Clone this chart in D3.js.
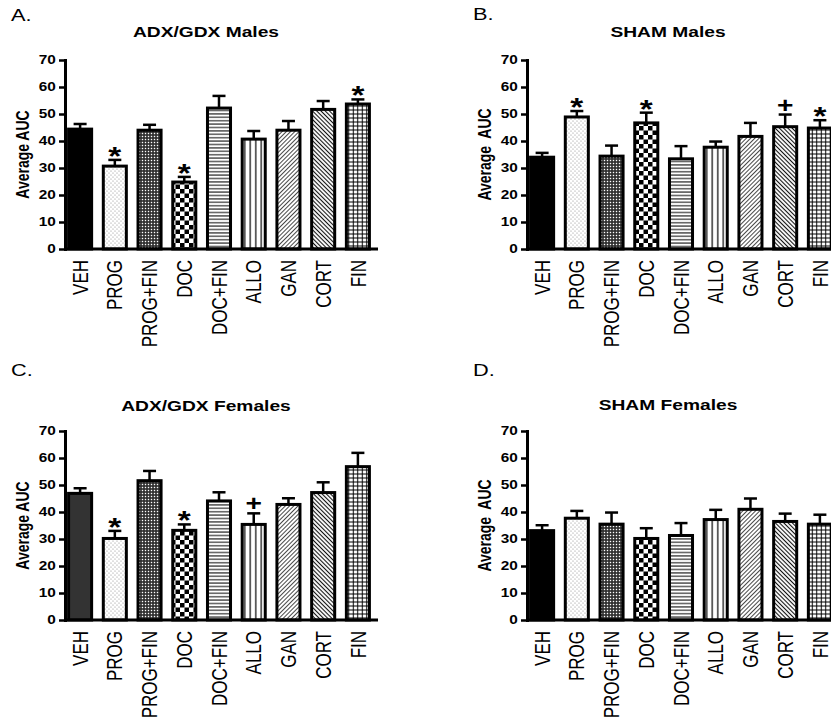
<!DOCTYPE html>
<html>
<head>
<meta charset="utf-8">
<script src="https://cdn.jsdelivr.net/npm/d3@7"></script>
<style>
  body { margin: 0; background: #fff; }
  svg { display: block; font-family: "Liberation Sans", Arial, sans-serif; }
</style>
</head>
<body>
<svg id="chart" width="831" height="723"></svg>
<script>
// treatment groups (x categories)
const categories = ['VEH', 'PROG', 'PROG+FIN', 'DOC', 'DOC+FIN', 'ALLO', 'GAN', 'CORT', 'FIN'];
const yTicks = [0, 10, 20, 30, 40, 50, 60, 70];

// mean AUC and upper error (SEM) per panel
const adxMalesMean = [44.4, 30.7, 44.0, 24.8, 52.2, 40.7, 44.0, 51.7, 53.7];
const adxMalesSem = [1.9, 2.3, 2.0, 1.9, 4.5, 3.0, 3.4, 3.1, 1.7];
const adxMalesMarks = ['', '*', '', '*', '', '', '', '', '*'];

const shamMalesMean = [34.0, 48.9, 34.4, 46.7, 33.4, 37.7, 41.7, 45.3, 44.8];
const shamMalesSem = [1.6, 2.2, 3.9, 3.8, 4.7, 2.1, 5.0, 4.5, 2.9];
const shamMalesMarks = ['', '*', '', '*', '', '', '', '+', '*'];

const adxFemalesMean = [46.9, 30.2, 51.6, 33.2, 44.1, 35.4, 42.8, 47.2, 56.8];
const adxFemalesSem = [1.9, 2.8, 3.6, 2.2, 3.2, 4.1, 2.3, 3.8, 5.1];
const adxFemalesMarks = ['', '*', '', '*', '', '+', '', '', ''];

const shamFemalesMean = [33.1, 37.7, 35.5, 30.2, 31.3, 37.2, 41.0, 36.5, 35.5];
const shamFemalesSem = [2.0, 2.7, 4.3, 3.8, 4.6, 3.6, 4.0, 2.9, 3.5];
const shamFemalesMarks = ['', '', '', '', '', '', '', '', ''];

// the source figure is stretched sideways, so text is widened to match
const SX = 1.28;

const panels = [
  { letter: 'A.', title: 'ADX/GDX Males', ylabel: 'Average AUC', x0: 65, y0: 249, letterY: 21, titleY: 37,
    mean: adxMalesMean, sem: adxMalesSem, marks: adxMalesMarks, vehFill: '#000' },
  { letter: 'B.', title: 'SHAM Males', ylabel: 'Average  AUC', x0: 527, y0: 249, letterY: 20, titleY: 37,
    mean: shamMalesMean, sem: shamMalesSem, marks: shamMalesMarks, vehFill: '#000' },
  { letter: 'C.', title: 'ADX/GDX Females', ylabel: 'Average AUC', x0: 65, y0: 620, letterY: 376, titleY: 411,
    mean: adxFemalesMean, sem: adxFemalesSem, marks: adxFemalesMarks, vehFill: '#333' },
  { letter: 'D.', title: 'SHAM Females', ylabel: 'Average  AUC', x0: 527, y0: 620, letterY: 376, titleY: 410,
    mean: shamFemalesMean, sem: shamFemalesSem, marks: shamFemalesMarks, vehFill: '#000' },
];

const svg = d3.select('#chart');
const defs = svg.append('defs');

// fill patterns, one per treatment
function pattern(id, w, h, transform, bg) {
  const p = defs.append('pattern')
    .attr('id', id)
    .attr('patternUnits', 'userSpaceOnUse')
    .attr('width', w)
    .attr('height', h);
  if (transform) p.attr('patternTransform', transform);
  p.append('rect').attr('width', w).attr('height', h).attr('fill', bg || '#fff');
  return p;
}

let p = pattern('p-dots', 4, 4);
p.append('circle').attr('cx', 1).attr('cy', 1).attr('r', 0.6).attr('fill', '#888');
p.append('circle').attr('cx', 3).attr('cy', 3).attr('r', 0.6).attr('fill', '#888');

p = pattern('p-fine', 3, 3, null, '#2a2a2a');
p.append('rect').attr('x', 0.8).attr('y', 0.8).attr('width', 1.4).attr('height', 1.4).attr('fill', '#fff');

p = pattern('p-check', 9, 9);
p.append('rect').attr('width', 4.5).attr('height', 4.5).attr('fill', '#000');
p.append('rect').attr('x', 4.5).attr('y', 4.5).attr('width', 4.5).attr('height', 4.5).attr('fill', '#000');

p = pattern('p-hlines', 4, 3.4);
p.append('line').attr('x1', 0).attr('x2', 4).attr('y1', 1.7).attr('y2', 1.7).attr('stroke', '#000').attr('stroke-width', 1);

p = pattern('p-vlines', 5.5, 4);
p.append('line').attr('x1', 2.75).attr('x2', 2.75).attr('y1', 0).attr('y2', 4).attr('stroke', '#000').attr('stroke-width', 1.2);

p = pattern('p-diag1', 3, 3, 'rotate(45)');
p.append('line').attr('x1', 1.5).attr('x2', 1.5).attr('y1', 0).attr('y2', 3).attr('stroke', '#333').attr('stroke-width', 0.9);

p = pattern('p-diag2', 3, 3, 'rotate(-45)');
p.append('line').attr('x1', 1.5).attr('x2', 1.5).attr('y1', 0).attr('y2', 3).attr('stroke', '#111').attr('stroke-width', 1.1);

p = pattern('p-grid', 4.5, 4);
p.append('line').attr('x1', 0).attr('x2', 4.5).attr('y1', 2).attr('y2', 2).attr('stroke', '#000').attr('stroke-width', 1);
p.append('line').attr('x1', 2.25).attr('x2', 2.25).attr('y1', 0).attr('y2', 4).attr('stroke', '#000').attr('stroke-width', 1);

const fills = [null, 'url(#p-dots)', 'url(#p-fine)', 'url(#p-check)', 'url(#p-hlines)',
  'url(#p-vlines)', 'url(#p-diag1)', 'url(#p-diag2)', 'url(#p-grid)'];

function stretchedText(g, x, y, str, size, weight, anchor, rotate) {
  return g.append('text')
    .attr('transform', `translate(${x},${y}) scale(${SX},1)` + (rotate ? ` rotate(${rotate})` : ''))
    .attr('text-anchor', anchor)
    .attr('font-size', size)
    .attr('font-weight', weight)
    .attr('fill', '#000')
    .style('white-space', 'pre')
    .text(str);
}

panels.forEach((pn) => {
  const g = svg.append('g');
  const bandW = 308;  // width taken by the 9 bars
  const axisW = 313;  // x-axis line runs a little past the last bar
  const plotH = 189;

  const x = d3.scaleBand()
    .domain(categories)
    .range([pn.x0, pn.x0 + bandW])
    .paddingInner(0.25)
    .paddingOuter(0.06);

  const y = d3.scaleLinear()
    .domain([0, 70])
    .range([pn.y0, pn.y0 - plotH]);

  // letter + title
  stretchedText(g, pn.x0 - 54, pn.letterY, pn.letter, 17, 400, 'start');
  stretchedText(g, pn.x0 + 141, pn.titleY, pn.title, 15, 700, 'middle');

  // bars
  const bw = x.bandwidth();
  g.selectAll('rect.bar')
    .data(categories)
    .join('rect')
    .attr('class', 'bar')
    .attr('x', (d) => x(d) + 1.5)
    .attr('width', bw - 3)
    .attr('y', (d, i) => y(pn.mean[i]))
    .attr('height', (d, i) => y(0) - y(pn.mean[i]))
    .attr('fill', (d, i) => (i === 0 ? pn.vehFill : fills[i]))
    .attr('stroke', '#000')
    .attr('stroke-width', 3);

  // upper error bars
  const eb = g.selectAll('g.err')
    .data(categories)
    .join('g')
    .attr('class', 'err')
    .attr('stroke', '#000')
    .attr('stroke-width', 2.5);
  eb.append('line')
    .attr('x1', (d) => x(d) + bw / 2)
    .attr('x2', (d) => x(d) + bw / 2)
    .attr('y1', (d, i) => y(pn.mean[i]))
    .attr('y2', (d, i) => y(pn.mean[i] + pn.sem[i]));
  eb.append('line')
    .attr('x1', (d) => x(d) + bw / 2 - 6.5)
    .attr('x2', (d) => x(d) + bw / 2 + 6.5)
    .attr('y1', (d, i) => y(pn.mean[i] + pn.sem[i]))
    .attr('y2', (d, i) => y(pn.mean[i] + pn.sem[i]));

  // significance marks
  categories.forEach((c, i) => {
    const m = pn.marks[i];
    if (!m) return;
    const top = y(pn.mean[i] + pn.sem[i]);
    if (m === '*') stretchedText(g, x(c) + bw / 2, top + 5, '*', 26, 700, 'middle');
    else stretchedText(g, x(c) + bw / 2, top - 2, '+', 22, 700, 'middle');
  });

  // y axis
  const ya = g.append('g')
    .attr('transform', `translate(${pn.x0},0)`)
    .call(d3.axisLeft(y).tickValues(yTicks).tickSize(6).tickSizeOuter(0).tickFormat(d3.format('d')));
  ya.select('.domain').attr('stroke-width', 3).attr('stroke-linecap', 'square');
  ya.selectAll('.tick line').attr('stroke-width', 2.5);
  ya.selectAll('.tick text')
    .attr('x', -7.2)
    .attr('transform', `scale(${SX},1)`)
    .attr('font-size', 12)
    .attr('font-weight', 700)
    .attr('font-family', '"Liberation Sans", Arial, sans-serif')
    .attr('fill', '#000');

  // x axis
  const xa = g.append('g')
    .attr('transform', `translate(0,${pn.y0})`)
    .call(d3.axisBottom(x).tickSize(0).tickSizeOuter(0));
  xa.select('.domain')
    .attr('d', `M${pn.x0},0H${pn.x0 + axisW}`)
    .attr('stroke-width', 3);
  xa.selectAll('.tick text')
    .attr('x', 0)
    .attr('y', 0)
    .attr('dy', '0.35em')
    .attr('transform', `translate(0,11) scale(${SX},1) rotate(-90)`)
    .attr('text-anchor', 'end')
    .attr('font-size', 17)
    .attr('font-family', '"Liberation Sans", Arial, sans-serif')
    .attr('fill', '#000');

  // y axis title
  stretchedText(g, pn.x0 - 36, pn.y0 - plotH / 2, pn.ylabel, 14, 700, 'middle', -90);
});
</script>
</body>
</html>
